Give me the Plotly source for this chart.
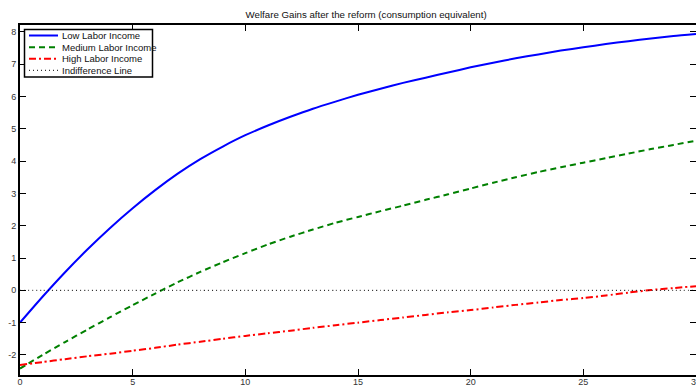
import plotly.graph_objects as go

# Horizon (years after the reform)
years = list(range(0, 31))

# Welfare gains (% consumption equivalent) by labor-income group
low_income = [-1.00, -0.20, 0.56, 1.27, 1.93, 2.54, 3.10, 3.61, 4.06, 4.45,
              4.80, 5.10, 5.37, 5.62, 5.84, 6.05, 6.24, 6.42, 6.58, 6.74,
              6.90, 7.04, 7.18, 7.30, 7.42, 7.52, 7.62, 7.71, 7.79, 7.87, 7.93]
medium_income = [-2.42, -2.00, -1.60, -1.21, -0.83, -0.46, -0.10, 0.25, 0.57, 0.87,
                 1.15, 1.42, 1.66, 1.88, 2.09, 2.27, 2.45, 2.62, 2.80, 2.97,
                 3.15, 3.33, 3.50, 3.66, 3.81, 3.95, 4.09, 4.23, 4.37, 4.50, 4.63]
high_income = [-2.31, -2.22, -2.13, -2.04, -1.96, -1.87, -1.78, -1.68, -1.59, -1.50,
               -1.41, -1.33, -1.25, -1.16, -1.08, -1.00, -0.92, -0.84, -0.76, -0.68,
               -0.61, -0.53, -0.45, -0.38, -0.30, -0.24, -0.16, -0.07, 0.01, 0.07, 0.13]
indifference = [0.0] * len(years)

series_names = ["Low Labor Income", "Medium Labor Income",
                "High Labor Income", "Indifference Line"]

x_ticks = [0, 5, 10, 15, 20, 25, 30]
y_ticks = [-2, -1, 0, 1, 2, 3, 4, 5, 6, 7, 8]

FONT = "Liberation Sans, Arial, sans-serif"
W, H = 696, 388
ML, MR, MT, MB = 20, 0, 25, 13
PW, PH = W - ML - MR, H - MT - MB

styles = [
    dict(color="#0000ff", width=2, dash="solid"),
    dict(color="#008000", width=2, dash="6px,4px"),
    dict(color="#ff0000", width=2, dash="7px,3px,2px,3px"),
    dict(color="#000000", width=1, dash="1px,3px"),
]

fig = go.Figure()
for name, values, st in zip(series_names,
                            [low_income, medium_income, high_income, indifference],
                            styles):
    fig.add_trace(go.Scatter(x=years, y=values, mode="lines", name=name,
                             line=dict(color=st["color"], width=st["width"], dash=st["dash"],
                                       shape="spline", smoothing=0.6),
                             showlegend=False))


def px_x(p):
    return (p - ML) / PW


def px_y(p):
    return (H - MB - p) / PH


# Compact boxed legend in the upper-left corner of the axes
shapes = [dict(type="rect", xref="paper", yref="paper",
               x0=px_x(24.5), x1=px_x(152.5), y0=px_y(29.5), y1=px_y(77),
               fillcolor="#ffffff", line=dict(color="#000000", width=1.5), layer="above")]
annotations = []
row_y = [35.5, 47.2, 58.8, 70.3]
for name, st, ry in zip(series_names, styles, row_y):
    shapes.append(dict(type="line", xref="paper", yref="paper",
                       x0=px_x(29), x1=px_x(58), y0=px_y(ry), y1=px_y(ry),
                       line=dict(color=st["color"], width=st["width"], dash=st["dash"]),
                       layer="above"))
    annotations.append(dict(text=name, xref="paper", yref="paper",
                            x=px_x(60), y=px_y(ry), xanchor="left", yanchor="middle",
                            showarrow=False,
                            font=dict(family=FONT, size=9.5, color="#111111")))

axis_common = dict(
    showgrid=False, zeroline=False, showline=True, linecolor="#000000", linewidth=2,
    mirror="ticks", ticks="inside", ticklen=6, tickwidth=1, tickcolor="#000000",
    tickfont=dict(family=FONT, size=9, color="#333333"), automargin=False,
    ticklabeloverflow="allow",
)

fig.update_layout(
    width=W, height=H,
    margin=dict(l=ML, r=MR, t=MT, b=MB),
    paper_bgcolor="#ffffff", plot_bgcolor="#ffffff",
    title=dict(text="Welfare Gains after the reform (consumption equivalent)",
               x=0.526, xanchor="center", y=0.962, yanchor="middle",
               font=dict(family=FONT, size=9.7, color="#111111")),
    xaxis=dict(range=[0, 30], tickvals=x_ticks, ticktext=[str(v) for v in x_ticks],
               ticklabelstandoff=-3, **axis_common),
    yaxis=dict(range=[-2.62, 8.21], tickvals=y_ticks, ticktext=[str(v) for v in y_ticks],
               **axis_common),
    shapes=shapes,
    annotations=annotations,
    showlegend=False,
)

fig.write_html("out.html")
